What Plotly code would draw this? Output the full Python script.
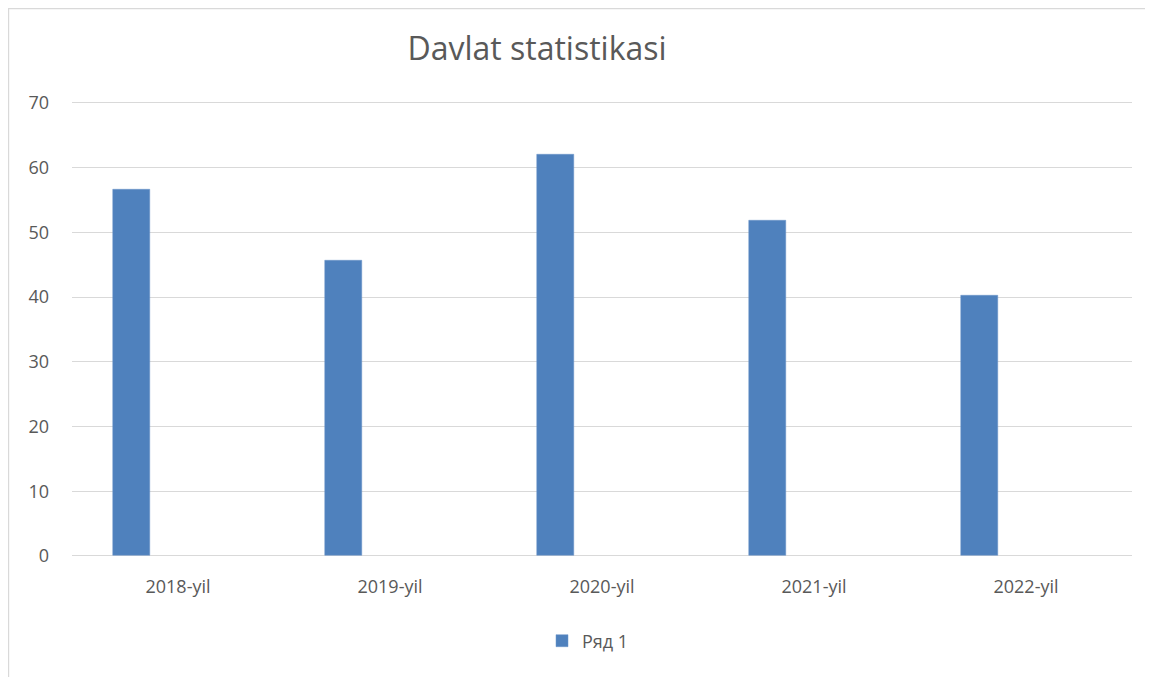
import plotly.graph_objects as go

categories = ["2018-yil", "2019-yil", "2020-yil", "2021-yil", "2022-yil"]
series_name = "Ряд 1"
values = [56.7, 45.6, 62.0, 51.8, 40.3]
title_text = "Davlat statistikasi"
y_ticks = [0, 10, 20, 30, 40, 50, 60, 70]

W, H = 1153, 677
OFF = 8  # page body margin offset
def fx(px):
    return (px - OFF) / W
def fy(py):
    return 1 - (py - OFF) / H

Y0_PX, Y70_PX = 556, 103
YMAX = 71
top_px = Y0_PX - (Y0_PX - Y70_PX) * YMAX / 70

fig = go.Figure()
fig.add_trace(go.Bar(
    x=categories, y=values, name=series_name,
    marker=dict(color="#4f81bd", line=dict(color="#6a94c8", width=0.5)),
    width=0.175, offset=-0.308,
    showlegend=True,
))

fig.update_layout(
    width=W, height=H,
    margin=dict(l=0, r=0, t=0, b=0, autoexpand=False),
    paper_bgcolor="white", plot_bgcolor="white",
    font=dict(family="Open Sans, Noto Sans, sans-serif", color="#595959", size=18),
    title=dict(text=title_text, x=fx(537), xanchor="center", y=fy(49), yanchor="middle",
               font=dict(size=32, color="#595959")),
    xaxis=dict(domain=[fx(72), fx(1132)], showgrid=False, showline=False, ticks="",
               automargin=False,
               tickfont=dict(size=18, color="#595959"), ticklabelstandoff=18),
    yaxis=dict(domain=[fy(Y0_PX), fy(top_px)], range=[0, YMAX], tickvals=y_ticks,
               automargin=False,
               showgrid=True, gridcolor="#d9d9d9", gridwidth=1.3, zeroline=True,
               zerolinecolor="#d9d9d9", zerolinewidth=1.3, showline=False, ticks="",
               tickfont=dict(size=18, color="#595959"), ticklabelstandoff=22),
    legend=dict(orientation="h", x=fx(588), xanchor="center", y=fy(641), yanchor="middle",
                font=dict(size=18, color="#595959"), itemwidth=30),
    shapes=[dict(type="rect", xref="paper", yref="paper", x0=0.0005, x1=1.0, y0=0.0, y1=0.999,
                 line=dict(color="#d9d9d9", width=1.2), fillcolor="rgba(0,0,0,0)", layer="below")],
    bargap=0,
)
fig.write_html("out.html")
